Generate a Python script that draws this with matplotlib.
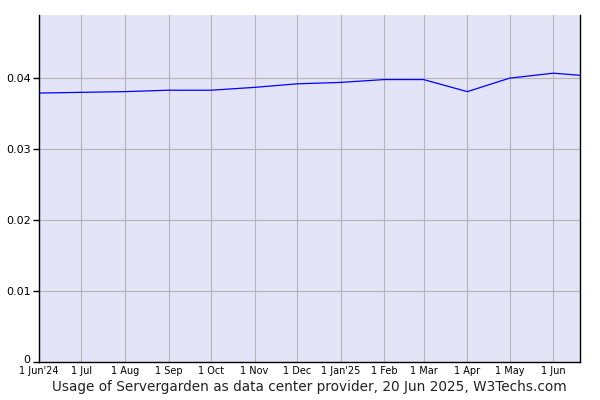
import datetime as dt

import matplotlib
matplotlib.use("Agg")
import matplotlib.pyplot as plt
import matplotlib.transforms as mtransforms

# monthly readings, plus the last one on 20 Jun 2025
dates = [
    "2024-06-01", "2024-07-01", "2024-08-01", "2024-09-01", "2024-10-01",
    "2024-11-01", "2024-12-01", "2025-01-01", "2025-02-01", "2025-03-01",
    "2025-04-01", "2025-05-01", "2025-06-01", "2025-06-20",
]
usage = [
    0.0379, 0.0380, 0.0381, 0.0383, 0.0383,
    0.0387, 0.0392, 0.0394, 0.0398, 0.0398,
    0.0381, 0.0400, 0.0407, 0.0404,
]
tick_dates = [
    "2024-06-01", "2024-07-01", "2024-08-01", "2024-09-01", "2024-10-01",
    "2024-11-01", "2024-12-01", "2025-01-01", "2025-02-01", "2025-03-01",
    "2025-04-01", "2025-05-01", "2025-06-01",
]
tick_labels = [
    "1 Jun'24", "1 Jul", "1 Aug", "1 Sep", "1 Oct", "1 Nov", "1 Dec",
    "1 Jan'25", "1 Feb", "1 Mar", "1 Apr", "1 May", "1 Jun",
]
y_ticks = [0, 0.01, 0.02, 0.03, 0.04]
y_labels = ["0", "0.01", "0.02", "0.03", "0.04"]

x = [dt.datetime.strptime(d, "%Y-%m-%d") for d in dates]
xt = [dt.datetime.strptime(d, "%Y-%m-%d") for d in tick_dates]

fig = plt.figure(figsize=(6, 4), dpi=100)
ax = fig.add_axes([0.065, 0.095, 0.9017, 0.8675])
ax.set_facecolor("#e4e4f8")

ax.plot(x, usage, color="#0000ff", linewidth=0.9, zorder=3)

ax.set_xlim(x[0], x[-1])
ax.set_ylim(0, 0.0489)

ax.set_xticks(xt)
ax.set_xticklabels(tick_labels, fontsize=7)
ax.set_yticks(y_ticks)
ax.set_yticklabels(y_labels, fontsize=8)
ax.tick_params(axis="x", length=0, pad=3)
ax.tick_params(axis="y", length=4, width=1, direction="out", pad=2)
ax.grid(True, color="#b4b4b4", linewidth=0.8, zorder=1)
ax.set_axisbelow(True)

# lift the "0" label a little so it clears the date labels
zero_lbl = ax.get_yticklabels()[0]
zero_lbl.set_transform(zero_lbl.get_transform()
                       + mtransforms.ScaledTranslation(0, 2 / 72, fig.dpi_scale_trans))

ax.spines["top"].set_visible(False)
for s in ("left", "right", "bottom"):
    ax.spines[s].set_color("black")
    ax.spines[s].set_linewidth(1)

fig.text(0.515, 0.032, "Usage of Servergarden as data center provider, 20 Jun 2025, W3Techs.com",
         ha="center", va="center", fontsize=9.8, color="#222222")

fig.savefig("out.png", dpi=100)
